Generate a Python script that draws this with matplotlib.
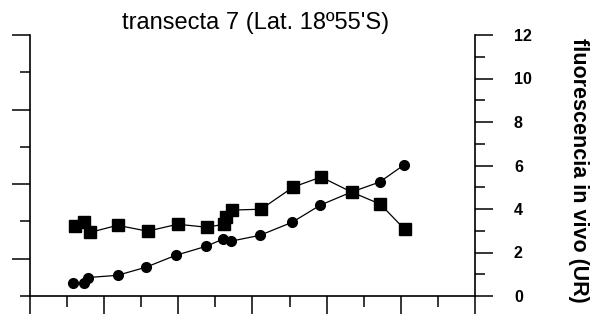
import matplotlib
matplotlib.use("Agg")
import matplotlib.pyplot as plt

plt.rcParams['font.family'] = ['Liberation Sans', 'DejaVu Sans']

# distancia (unidades del eje x) y fluorescencia (UR)
x_cuad = [1.22, 1.46, 1.63, 2.36, 3.17, 3.98, 4.77, 5.23, 5.28, 5.44, 6.23, 7.10, 7.85, 8.67, 9.45, 10.10]
y_cuad = [3.21, 3.39, 2.93, 3.25, 2.98, 3.30, 3.16, 3.30, 3.62, 3.95, 3.99, 5.01, 5.47, 4.78, 4.22, 3.07]

x_circ = [1.16, 1.46, 1.57, 2.36, 3.12, 3.93, 4.74, 5.20, 5.42, 6.20, 7.07, 7.83, 8.67, 9.43, 10.08]
y_circ = [0.62, 0.62, 0.85, 0.95, 1.32, 1.87, 2.28, 2.61, 2.52, 2.79, 3.39, 4.18, 4.78, 5.24, 6.02]

ticks_der = [0, 2, 4, 6, 8, 10, 12]

fig = plt.figure(figsize=(5.91, 3.14), dpi=100)
ax = fig.add_axes([30/591, 18/314, 445/591, 261/314])
ax2 = ax.twinx()   # solo para las marcas del eje izquierdo

ax.plot(x_cuad, y_cuad, color='black', lw=0.9, marker='s', ms=9, zorder=3)
ax.plot(x_circ, y_circ, color='black', lw=0.9, marker='o', ms=7, zorder=3)

ax.set_xlim(0, 12)
ax.set_ylim(0, 12)
ax.spines['top'].set_visible(False)
ax.spines['left'].set_visible(False)
for s in ('right', 'bottom'):
    ax.spines[s].set_linewidth(1.2)

# eje x sin etiquetas
ax.set_xticks(range(0, 13, 2))
ax.set_xticks(range(1, 13, 2), minor=True)
ax.set_xticklabels([])
ax.tick_params(axis='x', which='major', direction='out', length=16, width=1.1)
ax.tick_params(axis='x', which='minor', direction='out', length=8, width=1.1)

# eje izquierdo sin etiquetas (ax2)
ax2.yaxis.tick_left()
ax2.set_ylim(0, 7)
ax2.set_yticks([1, 3, 5, 7])
ax2.set_yticks([0, 2, 4, 6], minor=True)
ax2.set_yticklabels([])
ax2.tick_params(axis='y', which='major', length=13, width=1.1)
ax2.tick_params(axis='y', which='minor', length=7, width=1.1)
for s in ('top', 'right', 'bottom'):
    ax2.spines[s].set_visible(False)
ax2.spines['left'].set_visible(True)
ax2.spines['left'].set_linewidth(1.2)

# eje derecho con valores
ax.yaxis.tick_right()
ax.set_yticks(ticks_der)
ax.set_yticks([1, 3, 5, 7, 9, 11], minor=True)
ax.set_yticklabels([str(t) for t in ticks_der], fontsize=11.5, fontweight='bold')
ax.tick_params(axis='y', which='both', left=False, right=True, labelleft=False, labelright=True)
ax.tick_params(axis='y', which='major', length=13, width=1.1, pad=15)
ax.tick_params(axis='y', which='minor', length=7, width=1.1)

fig.text(579/591, 1 - 170/314, "fluorescencia in vivo (UR)", rotation=270,
         ha='center', va='center', fontsize=15.5, fontweight='bold')

fig.text(256/591, 1 - 23/314, "transecta 7 (Lat. 18º55'S)", ha='center', va='center',
         fontsize=17)

fig.savefig("out.png", dpi=100)
